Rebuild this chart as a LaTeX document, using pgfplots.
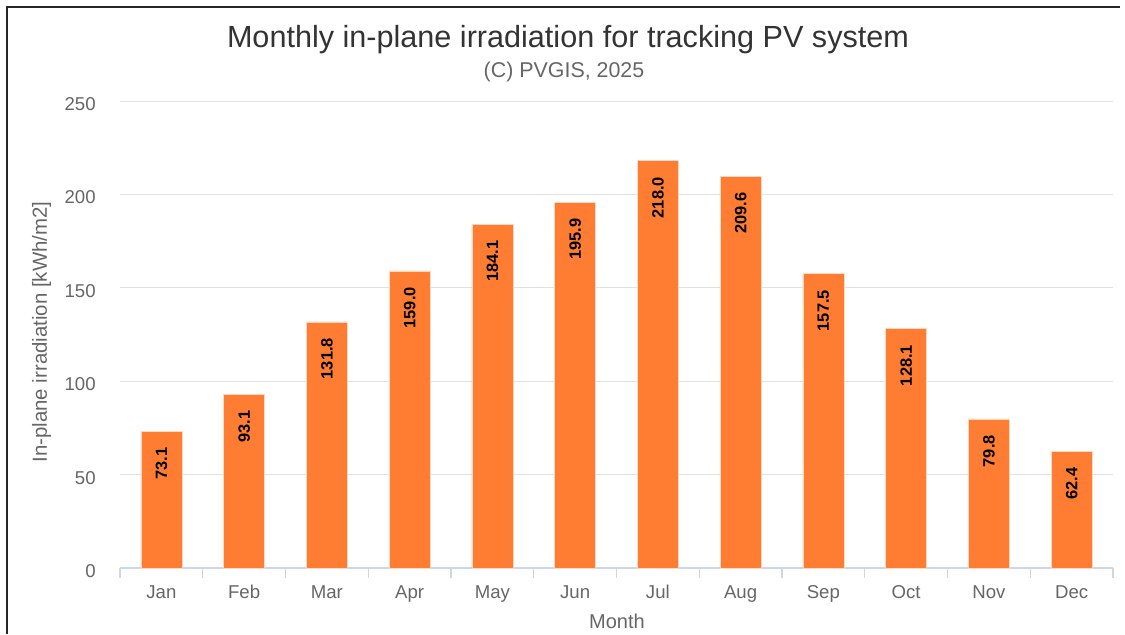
\documentclass[border=0pt]{standalone}
\usepackage{fontspec}
\setmainfont{Liberation Sans}
\usepackage{pgfplots}
\pgfplotsset{compat=1.18}

\definecolor{barorange}{RGB}{255,125,50}
\definecolor{axisblue}{RGB}{204,214,235}
\definecolor{gridgray}{RGB}{225,225,225}
\definecolor{ticktext}{RGB}{102,102,102}
\definecolor{titletext}{RGB}{51,51,51}

\begin{document}
\begin{tikzpicture}
\path[use as bounding box] (0pt,0pt) rectangle (562.5pt,317pt);
\draw[line width=0.8pt, black!85] (3.6pt,0pt) -- (3.6pt,313.4pt) -- (560pt,313.4pt);

\node[anchor=base, text=titletext, font=\fontsize{15.3}{18}\selectfont] at (284pt,293.2pt)
  {Monthly in-plane irradiation for tracking PV system};
\node[anchor=base, text=ticktext, font=\fontsize{10.7}{13}\selectfont] at (282pt,278.5pt)
  {(C) PVGIS, 2025};

\begin{axis}[
  at={(60pt,33pt)}, anchor=south west,
  scale only axis,
  width=496.5pt, height=233.5pt,
  ybar, bar width=20.5pt,
  xmin=-0.5, xmax=11.5,
  ymin=0, ymax=250,
  xtick={0,...,11},
  xticklabels={Jan,Feb,Mar,Apr,May,Jun,Jul,Aug,Sep,Oct,Nov,Dec},
  minor xtick={-0.5,0.5,...,11.5},
  ytick={0,50,...,250},
  axis x line*=bottom, axis y line*=left,
  x axis line style={draw=axisblue, line width=0.6pt, -},
  y axis line style={draw=none},
  xtick style={draw=none},
  ytick style={draw=none},
  minor x tick style={draw=axisblue, line width=0.6pt},
  tick align=outside,
  major tick length=0pt,
  minor tick length=5pt,
  ymajorgrids, grid style={gridgray, line width=0.5pt},
  /pgf/number format/assume math mode=true,
  xticklabel style={anchor=base, yshift=-15pt, text=ticktext, font=\fontsize{9.3}{11}\selectfont},
  yticklabel style={anchor=east, inner sep=0pt, xshift=-12pt, yshift=-1.5pt, text=ticktext, font=\fontsize{9.3}{11}\selectfont},
  nodes near coords={\pgfmathprintnumber[fixed,fixed zerofill,precision=1]{\pgfplotspointmeta}},
  every node near coord/.append style={rotate=90, anchor=east, inner xsep=8pt, inner ysep=0pt,
    text=black, font=\bfseries\fontsize{8.2}{10}\selectfont},
  clip=false,
]
\addplot[fill=barorange, draw=white!70!barorange, line width=0.3pt] coordinates {
  (0,73.1) (1,93.1) (2,131.8) (3,159.0) (4,184.1) (5,195.9)
  (6,218.0) (7,209.6) (8,157.5) (9,128.1) (10,79.8) (11,62.4)
};
\end{axis}

\node[anchor=base, rotate=90, text=ticktext, font=\fontsize{10.2}{12}\selectfont] at (23.4pt,151pt)
  {In-plane irradiation [kWh/m2]};
\node[anchor=base, text=ticktext, font=\fontsize{10}{12}\selectfont] at (308.5pt,3pt) {Month};
\end{tikzpicture}
\end{document}
